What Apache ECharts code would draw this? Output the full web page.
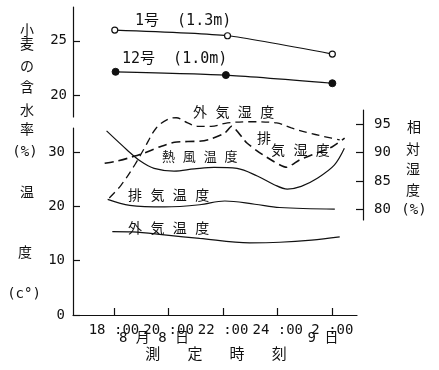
<!DOCTYPE html>
<html>
<head>
<meta charset="utf-8">
<script src="https://cdn.jsdelivr.net/npm/echarts@6/dist/echarts.min.js"></script>
<style>html,body{margin:0;padding:0;background:#fff;}#c{width:439px;height:370px;}</style>
</head>
<body>
<div id="c"></div>
<script>
// ---- data (hours since 0:00 on Aug 8; 26 = 2:00 on Aug 9) ----
const xTickHours = [18, 20, 22, 24, 26];
const xTickLabels = ['18 :00', '20 :00', '22 :00', '24 :00', '2 :00'];
const moistTicks = [20, 25];
const tempTicks = [0, 10, 20, 30];
const humTicks = [80, 85, 90, 95];

const no1Hours = [18.03, 22.16, 26.0];
const no1Moisture = [25.98, 25.46, 23.78];
const no12Hours = [18.06, 22.1, 26.0];
const no12Moisture = [22.15, 21.85, 21.1];

const hotAirHours = [17.73, 18.48, 18.98, 19.47, 20.2, 20.94, 21.67, 22.51, 23.25, 23.87, 24.35, 24.86, 25.45, 26.07, 26.44];
const hotAirTemp = [33.9, 30.4, 28.3, 27.0, 26.5, 26.9, 27.2, 27.0, 25.6, 24.0, 23.2, 23.7, 25.2, 27.6, 30.7];

const exhaustTempHours = [17.77, 18.58, 19.86, 21.14, 22.06, 23.16, 24.07, 26.09];
const exhaustTemp = [21.3, 20.2, 19.9, 20.3, 21.0, 20.4, 19.8, 19.5];

const outsideTempHours = [17.94, 18.68, 19.93, 21.14, 22.97, 24.07, 25.24, 26.27];
const outsideTemp = [15.35, 15.3, 14.7, 14.1, 13.3, 13.4, 13.8, 14.4];

const outsideHumHours = [17.83, 18.27, 18.76, 19.12, 19.55, 19.97, 20.28, 20.7, 21.06, 21.56, 22.16, 22.97, 23.96, 24.5, 25.17, 25.79, 26.27];
const outsideHum = [82.0, 84.3, 87.8, 90.8, 94.3, 95.8, 96.1, 95.2, 94.6, 94.6, 95.2, 95.4, 95.2, 94.3, 93.4, 92.7, 92.2];

const exhaustHumHours = [17.66, 18.03, 18.52, 19.0, 19.74, 20.22, 21.2, 21.57, 22.06, 22.31, 22.86, 23.45, 24.33, 24.8, 25.43, 26.0, 26.45];
const exhaustHum = [88.1, 88.4, 89.0, 89.7, 91.1, 91.8, 92.0, 92.4, 93.4, 94.6, 91.7, 89.6, 87.4, 88.7, 89.9, 91.0, 92.5];

// ---- chart ----
const pairs = (xs, ys) => xs.map((x, i) => [x, ys[i]]);
const INK = '#111';
const MONO = '"DejaVu Sans Mono", "Noto Sans CJK JP", monospace';
const CJK = '"DejaVu Sans Mono", "Noto Sans CJK JP", sans-serif';

const chart = echarts.init(document.getElementById('c'), null, {renderer: 'canvas'});

const axisCommon = {
  axisLine: {show: true, lineStyle: {color: INK, width: 1.2}},
  axisTick: {show: true, inside: true, length: 7, lineStyle: {color: INK, width: 1.2}},
  splitLine: {show: false},
  axisLabel: {color: INK, fontFamily: MONO, fontSize: 14}
};

function txt(text, x, y, size, align) {
  return {type: 'text', x: x, y: y, style: {text: text, fill: INK, font: size + 'px ' + CJK, textAlign: align || 'center', textVerticalAlign: 'middle'}};
}

const graphics = [
  // left vertical title
  txt('小', 27, 31, 14), txt('麦', 27, 45, 14), txt('の', 27, 67, 14), txt('含', 27, 88, 14),
  txt('水', 27, 111, 14), txt('率', 27, 130, 14), txt('(%)', 25, 152, 14),
  txt('温', 27, 193, 14), txt('度', 25, 253, 14), txt('(c°)', 24, 294, 14),
  // right vertical title
  txt('相', 414, 128, 14), txt('対', 413, 150, 14), txt('湿', 413, 170, 14), txt('度', 413, 191, 14),
  txt('(%)', 414, 210, 14),
  // x-axis sub labels
  txt('8 月 8 日', 154, 338, 14), txt('9 日', 323, 338, 14),
  txt('測   定   時   刻', 216, 355, 15),
  // series labels
  txt('1号  (1.3m)', 135, 21, 15, 'left'),
  txt('12号  (1.0m)', 122, 59, 15, 'left'),
  txt('外 気 湿 度', 193, 113, 14, 'left'),
  txt('熱 風 温 度', 162, 158, 13, 'left'),
  txt('排', 257, 139, 14, 'left'),
  txt('気 湿 度', 271, 151, 14, 'left'),
  txt('排 気 温 度', 128, 196, 14, 'left'),
  txt('外 気 温 度', 128, 229, 14, 'left')
];

const lineBase = {type: 'line', showSymbol: false, symbol: 'none', smooth: 0.35, lineStyle: {color: INK, width: 1.2}, z: 3};

chart.setOption({
  animation: false,
  backgroundColor: '#fff',
  grid: [
    {left: 73, top: 7, width: 284, height: 110},
    {left: 73, top: 128, width: 284, height: 187},
    {left: 73, top: 110, width: 290, height: 110}
  ],
  xAxis: [
    {gridIndex: 0, type: 'value', min: 16.5, max: 26.903, show: false},
    Object.assign({}, axisCommon, {
      gridIndex: 1, type: 'value', min: 16.5, max: 26.903,
      axisTick: Object.assign({}, axisCommon.axisTick, {customValues: xTickHours}),
      axisLabel: Object.assign({}, axisCommon.axisLabel, {
        customValues: xTickHours, margin: 8,
        formatter: v => xTickLabels[xTickHours.indexOf(Math.round(v))] || ''
      })
    }),
    {gridIndex: 2, type: 'value', min: 16.5, max: 27.123, show: false}
  ],
  yAxis: [
    Object.assign({}, axisCommon, {
      gridIndex: 0, type: 'value', min: 18, max: 28.1,
      axisTick: Object.assign({}, axisCommon.axisTick, {customValues: moistTicks}),
      axisLabel: Object.assign({}, axisCommon.axisLabel, {customValues: moistTicks, margin: 6})
    }),
    Object.assign({}, axisCommon, {
      gridIndex: 1, type: 'value', min: 0, max: 34.44,
      axisTick: Object.assign({}, axisCommon.axisTick, {customValues: tempTicks}),
      axisLabel: Object.assign({}, axisCommon.axisLabel, {customValues: tempTicks, margin: 8})
    }),
    Object.assign({}, axisCommon, {
      gridIndex: 2, type: 'value', position: 'right', min: 78.13, max: 97.46,
      axisTick: Object.assign({}, axisCommon.axisTick, {customValues: humTicks}),
      axisLabel: Object.assign({}, axisCommon.axisLabel, {customValues: humTicks, margin: 11})
    })
  ],
  series: [
    Object.assign({}, lineBase, {
      name: '1号', xAxisIndex: 0, yAxisIndex: 0, data: pairs(no1Hours, no1Moisture),
      showSymbol: true, symbol: 'circle', symbolSize: 6, smooth: 0.2,
      itemStyle: {color: '#fff', borderColor: INK, borderWidth: 1.2}
    }),
    Object.assign({}, lineBase, {
      name: '12号', xAxisIndex: 0, yAxisIndex: 0, data: pairs(no12Hours, no12Moisture),
      showSymbol: true, symbol: 'circle', symbolSize: 7, smooth: 0.2,
      itemStyle: {color: INK, borderColor: INK, borderWidth: 1}
    }),
    Object.assign({}, lineBase, {name: '熱風温度', xAxisIndex: 1, yAxisIndex: 1, data: pairs(hotAirHours, hotAirTemp)}),
    Object.assign({}, lineBase, {name: '排気温度', xAxisIndex: 1, yAxisIndex: 1, data: pairs(exhaustTempHours, exhaustTemp)}),
    Object.assign({}, lineBase, {name: '外気温度', xAxisIndex: 1, yAxisIndex: 1, data: pairs(outsideTempHours, outsideTemp)}),
    Object.assign({}, lineBase, {
      name: '外気湿度', xAxisIndex: 2, yAxisIndex: 2, data: pairs(outsideHumHours, outsideHum),
      lineStyle: {color: INK, width: 1.3, type: [8, 5]}
    }),
    Object.assign({}, lineBase, {
      name: '排気湿度', xAxisIndex: 2, yAxisIndex: 2, data: pairs(exhaustHumHours, exhaustHum), smooth: 0.2,
      lineStyle: {color: INK, width: 1.6, type: [9, 5]}
    })
  ],
  graphic: graphics
});
</script>
</body>
</html>
